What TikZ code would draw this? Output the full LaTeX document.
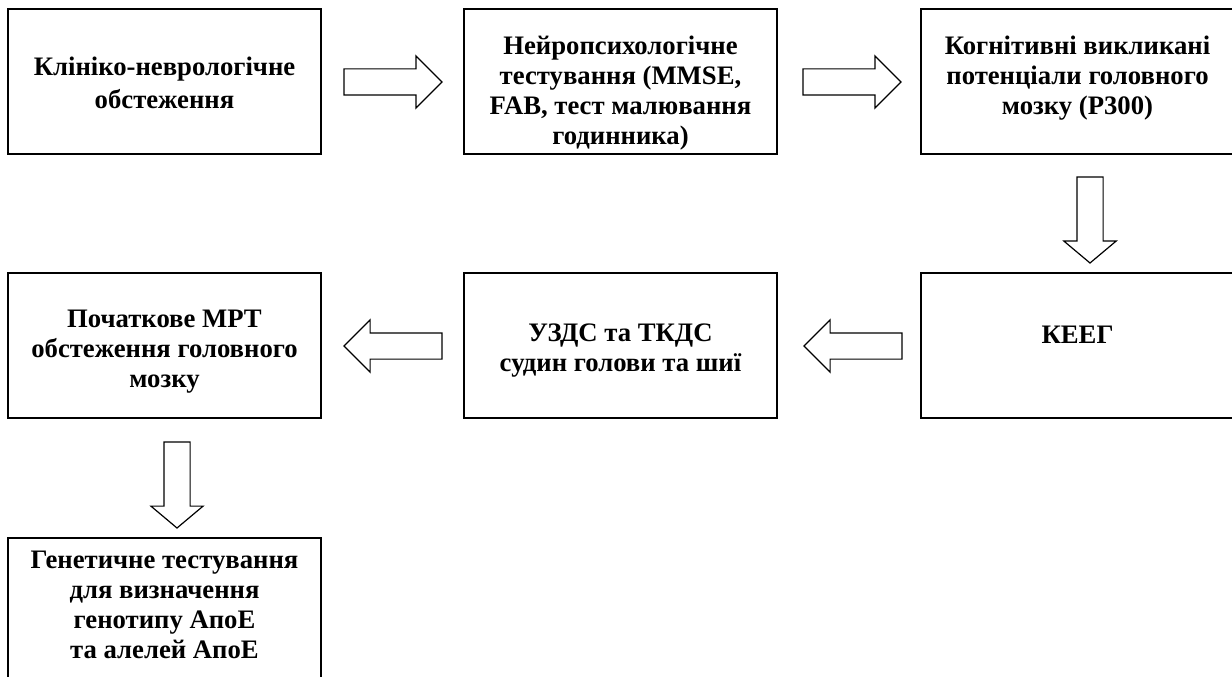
\documentclass[tikz,border=0pt]{standalone}
\usepackage{fontspec}
\setmainfont{Liberation Serif}
\usetikzlibrary{shapes.arrows,calc}
\begin{document}
\begin{tikzpicture}[x=1pt,y=-1pt,
  box/.style={draw, line width=1.6pt, minimum width=313pt, minimum height=145pt, inner sep=0pt, outer sep=0pt},
  txt/.style={align=center, inner sep=0pt, anchor=base, font=\fontsize{26.7}{30}\selectfont\bfseries},
  barrow/.style={draw, line width=1.2pt, single arrow, minimum height=98pt, anchor=tail,
    single arrow head extend=13pt, single arrow head indent=0pt, inner xsep=0pt, inner ysep=12.5pt, outer sep=0pt},
  varrow/.style={barrow, minimum height=86pt, inner xsep=12.5pt, inner ysep=0pt,
    single arrow tip angle=100, shape border rotate=270}
]
\useasboundingbox (0,0) rectangle (1232,677);
\clip (0,0) rectangle (1232,677);
\fill[white] (0,0) rectangle (1232,677);

% boxes
\node[box] (b1) at (164.5,81.5) {};
\node[box] (b2) at (620.5,81.5) {};
\node[box] (b3) at (1077.5,81.5) {};
\node[box] (b4) at (164.5,345.5) {};
\node[box] (b5) at (620.5,345.5) {};
\node[box] (b6) at (1077.5,345.5) {};
\node[box, minimum height=162pt] (b7) at (164.5,619) {};

% texts (anchor=base is the baseline of the last line)
\node[txt] (t1) at ($(b1.center)+(0,27.5)$) {Клініко-неврологічне\\[3pt]обстеження};
\node[txt] (t2) at ($(b2.center)+(0,62.5)$) {Нейропсихологічне\\тестування (MMSE,\\FAB, тест малювання\\годинника)};
\node[txt] (t3) at ($(b3.center)+(0,33)$) {Когнітивні викликані\\потенціали головного\\мозку (P300)};
\node[txt] (t4) at ($(b4.center)+(0,41.5)$) {Початкове МРТ\\обстеження головного\\мозку};
\node[txt] (t5) at ($(b5.center)+(0,25.5)$) {УЗДС та ТКДС\\судин голови та шиї};
\node[txt] (t6) at ($(b6.center)+(0,-2.5)$) {КЕЕГ};
\node[txt] (t7) at ($(b7.north)+(0,120)$) {Генетичне тестування\\для визначення\\генотипу АпоЕ\\та алелей АпоЕ};

% block arrows
\node[barrow] (a1) at ($(b1.east)+(23,0.5)$) {};
\node[barrow] (a2) at ($(b2.east)+(26,0.5)$) {};
\node[varrow] (a3) at ($(b3.south)+(12.5,23)$) {};
\node[barrow, shape border rotate=180] (a4) at ($(b6.west)+(-19,0.5)$) {};
\node[barrow, shape border rotate=180] (a5) at ($(b5.west)+(-22,0.5)$) {};
\node[varrow] (a6) at ($(b4.south)+(12.5,24)$) {};
\end{tikzpicture}
\end{document}
